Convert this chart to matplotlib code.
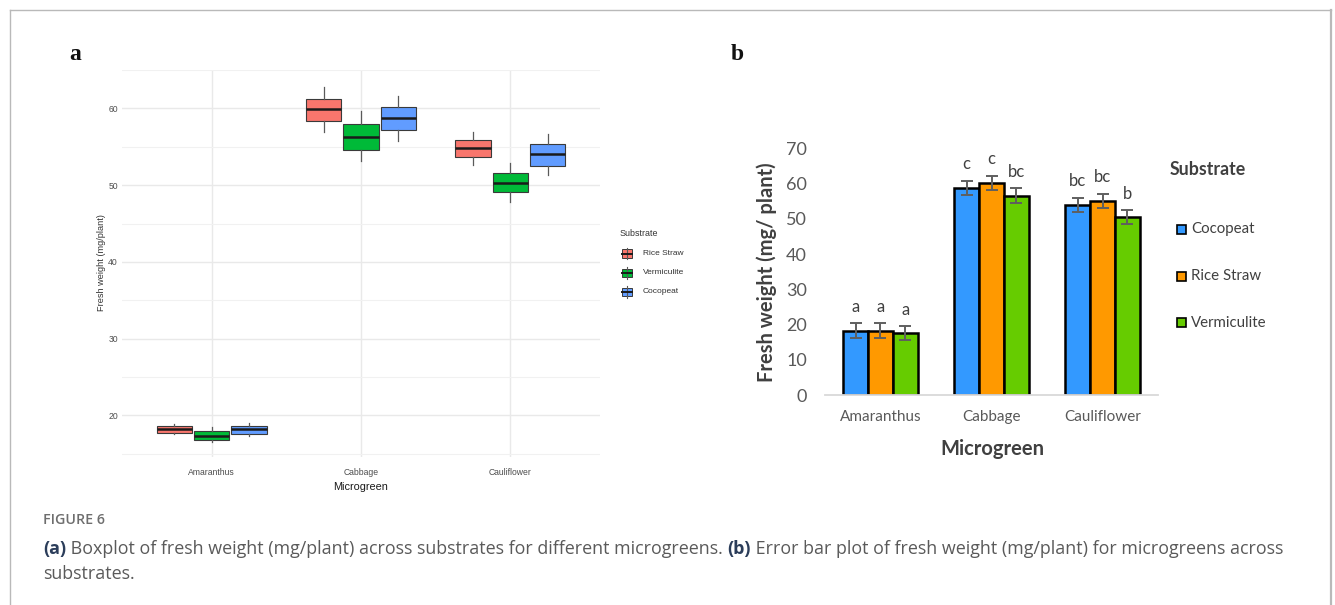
import matplotlib
matplotlib.use("Agg")
import matplotlib.pyplot as plt
from matplotlib.patches import Rectangle
from matplotlib.lines import Line2D
import numpy as np

# ---- data -------------------------------------------------------------
categories = ["Amaranthus", "Cabbage", "Cauliflower"]

# (a) box statistics, rows = substrate, columns = microgreen
box_substrates = ["Rice Straw", "Vermiculite", "Cocopeat"]
box_whislo = [[17.57, 56.98, 52.67], [16.49, 53.10, 47.84], [17.35, 55.80, 51.29]]
box_q1 = [[17.74, 58.36, 53.70], [16.79, 54.57, 49.05], [17.65, 57.15, 52.45]]
box_med = [[18.26, 59.90, 54.87], [17.35, 56.33, 50.30], [18.20, 58.70, 54.00]]
box_q3 = [[18.60, 61.20, 55.86], [18.00, 58.00, 51.63], [18.65, 60.17, 55.30]]
box_whishi = [[18.95, 62.85, 56.98], [18.52, 59.65, 52.93], [19.00, 61.55, 56.68]]
box_colors = ["#F8766D", "#00BA38", "#619CFF"]

# (b) means with error bars and significance letters
bar_substrates = ["Cocopeat", "Rice Straw", "Vermiculite"]
bar_means = [[18.3, 58.8, 53.9], [18.3, 60.1, 55.0], [17.5, 56.6, 50.4]]
bar_err = [[2.0, 2.0, 2.0], [2.0, 2.0, 2.0], [2.0, 2.0, 2.0]]
bar_letters = [["a", "c", "bc"], ["a", "c", "bc"], ["a", "bc", "b"]]
bar_colors = ["#3399FF", "#FF9900", "#66CC00"]
bar_yticks = [0, 10, 20, 30, 40, 50, 60, 70]

# ---- figure -----------------------------------------------------------
W, H = 1335, 605
fig = plt.figure(figsize=(W / 100, H / 100), dpi=100)


def X(px):
    return px / W


def Y(py):
    return 1 - py / H


# outer frame
frame_kw = dict(color="#b9b9b9", lw=1.0, transform=fig.transFigure)
fig.add_artist(Line2D([X(10), X(1331)], [Y(10), Y(10)], **frame_kw))
fig.add_artist(Line2D([X(10), X(10)], [Y(10), Y(605)], **frame_kw))
fig.add_artist(Line2D([X(1331), X(1331)], [Y(10), Y(605)], color="#b9b9b9", lw=1.6,
                      transform=fig.transFigure))

# panel letters
fig.text(X(69), Y(55), "a", family="Liberation Serif", weight="bold", fontsize=17,
         va="center", ha="left", color="#111111")
fig.text(X(731), Y(55), "b", family="Liberation Serif", weight="bold", fontsize=17,
         va="center", ha="left", color="#111111")

# ---- (a) boxplot ------------------------------------------------------
ax1 = fig.add_axes([X(122), Y(457), (600 - 122) / W, (457 - 70) / H])
ax1.set_xlim(0.4, 3.6)
ax1.set_ylim(14.59, 64.66)
for sp in ax1.spines.values():
    sp.set_visible(False)
ax1.set_yticks([20, 30, 40, 50, 60])
ax1.set_yticks([15, 25, 35, 45, 55, 65], minor=True)
ax1.set_xticks([1, 2, 3])
ax1.set_xticklabels(categories)
ax1.tick_params(axis="both", which="both", length=0)
ax1.tick_params(axis="both", labelsize=6.2, labelcolor="#4d4d4d")
ax1.tick_params(axis="x", pad=8)
ax1.tick_params(axis="y", pad=3)
for lab in ax1.get_xticklabels() + ax1.get_yticklabels():
    lab.set_family("Liberation Sans")
ax1.grid(True, which="major", color="#e9e9e9", lw=1.0)
ax1.grid(True, which="minor", axis="y", color="#f1f1f1", lw=0.8)
ax1.set_axisbelow(True)

offsets = [-0.25, 0.0, 0.25]
for s, name in enumerate(box_substrates):
    stats = []
    for c in range(len(categories)):
        stats.append(dict(whislo=box_whislo[s][c], q1=box_q1[s][c], med=box_med[s][c],
                          q3=box_q3[s][c], whishi=box_whishi[s][c], fliers=[]))
    pos = [c + 1 + offsets[s] for c in range(len(categories))]
    ax1.bxp(stats, positions=pos, widths=0.235, patch_artist=True, showfliers=False,
            showcaps=False, manage_ticks=False,
            boxprops=dict(facecolor=box_colors[s], edgecolor="#3a3a3a", lw=0.8),
            medianprops=dict(color="#1a1a1a", lw=1.8, solid_capstyle="butt"),
            whiskerprops=dict(color="#5a5a5a", lw=0.9))

fig.text(X(101), Y(263), "Fresh weight (mg/plant)", rotation=90, ha="center", va="center",
         fontsize=6.6, color="#333333", family="Liberation Sans")
fig.text(X(361), Y(487), "Microgreen", ha="center", va="center", fontsize=7.8,
         color="#1a1a1a", family="Liberation Sans")

# legend of panel (a)
fig.text(X(620), Y(233), "Substrate", ha="left", va="center", fontsize=6.4,
         color="#333333", family="Liberation Sans")
for i, (name, col) in enumerate(zip(box_substrates, box_colors)):
    yc = 253.5 + i * 19.2
    fig.add_artist(Line2D([X(627), X(627)], [Y(yc - 6), Y(yc + 6)], color="#5a5a5a",
                          lw=0.8, transform=fig.transFigure))
    fig.add_artist(Rectangle((X(622), Y(yc + 4)), 10 / W, 8 / H, facecolor=col,
                             edgecolor="#3a3a3a", lw=0.7, transform=fig.transFigure))
    fig.add_artist(Line2D([X(622), X(632)], [Y(yc), Y(yc)], color="#1a1a1a",
                          lw=1.4, transform=fig.transFigure))
    fig.text(X(643), Y(yc), name, ha="left", va="center", fontsize=6.0,
             color="#333333", family="Liberation Sans")

# ---- (b) bar chart with error bars -----------------------------------
ax2 = fig.add_axes([X(825), Y(395), (1158 - 825) / W, (395 - 148.3) / H])
ax2.set_xlim(0.5, 3.5)
ax2.set_ylim(0, 70)
for side in ["top", "right", "left"]:
    ax2.spines[side].set_visible(False)
ax2.spines["bottom"].set_color("#d9d9d9")
ax2.spines["bottom"].set_linewidth(1.3)
ax2.set_yticks(bar_yticks)
ax2.set_xticks([1, 2, 3])
ax2.set_xticklabels(categories)
ax2.tick_params(axis="both", length=0)
ax2.tick_params(axis="y", labelsize=13, labelcolor="#595959", pad=13)
ax2.tick_params(axis="x", labelsize=11, labelcolor="#595959", pad=11)
for lab in ax2.get_xticklabels() + ax2.get_yticklabels():
    lab.set_family("Lato")

bw = 0.225
x = np.arange(1, len(categories) + 1)
for s, name in enumerate(bar_substrates):
    xs = x + (s - 1) * bw
    ax2.bar(xs, bar_means[s], width=bw, color=bar_colors[s], edgecolor="#000000",
            linewidth=1.8, zorder=2)
    ax2.errorbar(xs, bar_means[s], yerr=bar_err[s], fmt="none", ecolor="#5f5f5f",
                 elinewidth=1.4, capsize=4.5, capthick=1.4, zorder=3)
    for c in range(len(categories)):
        ax2.annotate(bar_letters[s][c], (xs[c], bar_means[s][c] + bar_err[s][c]),
                     xytext=(0, 12), textcoords="offset points", ha="center",
                     va="center", fontsize=12, color="#404040", family="Lato")

fig.text(X(767), Y(272), "Fresh weight (mg/ plant)", rotation=90, ha="center",
         va="center", fontsize=14.5, weight="bold", color="#404040", family="Lato")
fig.text(X(992), Y(449), "Microgreen", ha="center", va="center", fontsize=14.5,
         weight="bold", color="#404040", family="Lato")

# legend of panel (b)
fig.text(X(1170), Y(170), "Substrate", ha="left", va="center", fontsize=12.8,
         weight="bold", color="#404040", family="Lato")
for i, (name, col) in enumerate(zip(bar_substrates, bar_colors)):
    yc = 229.3 + i * 46.7
    fig.add_artist(Rectangle((X(1177), Y(yc + 4.5)), 9 / W, 9 / H, facecolor=col,
                             edgecolor="#000000", lw=1.2, transform=fig.transFigure))
    fig.text(X(1191), Y(yc), name, ha="left", va="center", fontsize=10.8,
             color="#404040", family="Lato")

# ---- caption ----------------------------------------------------------
fig.text(X(43), Y(520), "FIGURE 6", ha="left", va="center", fontsize=10.3,
         weight="semibold", color="#6e6e6e", family="Open Sans")

renderer = fig.canvas.get_renderer()
parts = [("(a)", "bold", "#2b3d5a"),
         (" Boxplot of fresh weight (mg/plant) across substrates for different microgreens. ",
          "normal", "#5a5a5a"),
         ("(b)", "bold", "#2b3d5a"),
         (" Error bar plot of fresh weight (mg/plant) for microgreens across",
          "normal", "#5a5a5a")]
cap_size = 12.85
xpos = 43
for text, weight, col in parts:
    t = fig.text(X(xpos), Y(549), text, ha="left", va="center", fontsize=cap_size,
                 weight=weight, color=col, family="Open Sans")
    xpos += t.get_window_extent(renderer).width
fig.text(X(43), Y(574), "substrates.", ha="left", va="center", fontsize=cap_size,
         color="#5a5a5a", family="Open Sans")

fig.savefig("out.png", dpi=100, facecolor="white")
